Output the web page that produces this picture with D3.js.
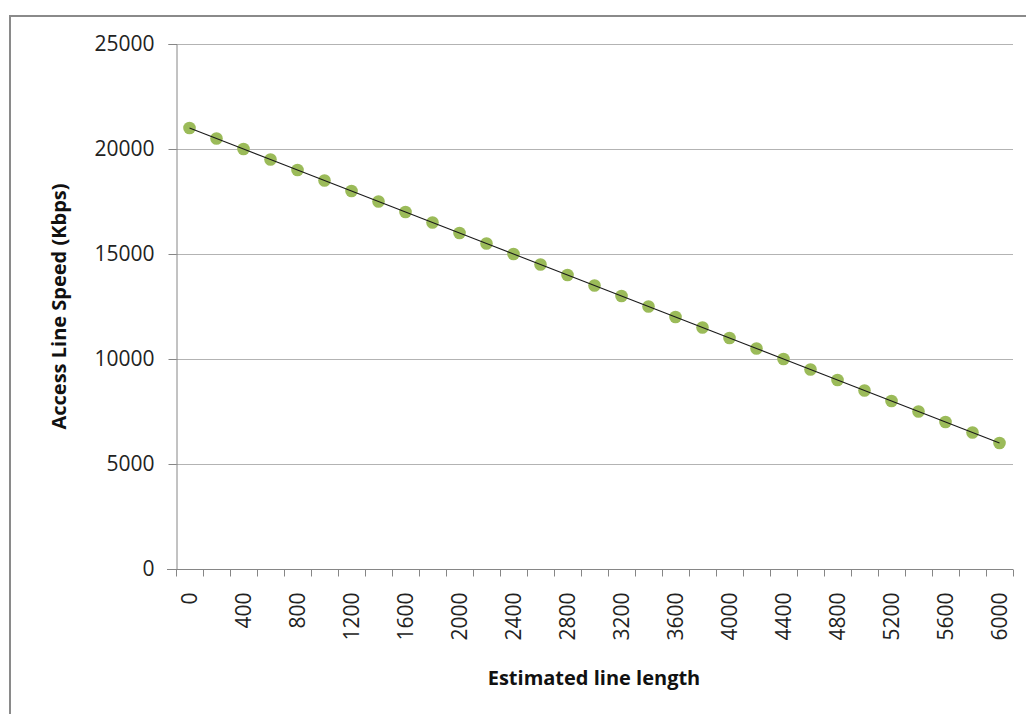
<!DOCTYPE html>
<html>
<head>
<meta charset="utf-8">
<script src="https://cdn.jsdelivr.net/npm/d3@7"></script>
<style>
  html, body { margin: 0; padding: 0; background: #fff; }
  svg { display: block; font-family: "Open Sans", "Liberation Sans", sans-serif; }
</style>
</head>
<body>
<div id="chart"></div>
<script>
// line length categories (0 .. 6000 step 200) and measured speed
const lengths = [0, 200, 400, 600, 800, 1000, 1200, 1400, 1600, 1800, 2000, 2200, 2400, 2600, 2800, 3000,
  3200, 3400, 3600, 3800, 4000, 4200, 4400, 4600, 4800, 5000, 5200, 5400, 5600, 5800, 6000];
const speeds = [21000, 20500, 20000, 19500, 19000, 18500, 18000, 17500, 17000, 16500, 16000, 15500, 15000, 14500, 14000, 13500,
  13000, 12500, 12000, 11500, 11000, 10500, 10000, 9500, 9000, 8500, 8000, 7500, 7000, 6500, 6000];
const xLabels = [0, 400, 800, 1200, 1600, 2000, 2400, 2800, 3200, 3600, 4000, 4400, 4800, 5200, 5600, 6000];
const yTicks = [0, 5000, 10000, 15000, 20000, 25000];

const width = 1026, height = 714;
const plot = { left: 176, top: 44, right: 1013, bottom: 569 };

const svg = d3.select('#chart').append('svg')
  .attr('width', width)
  .attr('height', height);

// outer chart frame
svg.append('rect')
  .attr('x', 10).attr('y', 16)
  .attr('width', 1040).attr('height', 720)
  .attr('fill', 'none')
  .attr('stroke', '#8a8a8a')
  .attr('stroke-width', 2);

const x = d3.scaleBand()
  .domain(lengths)
  .range([plot.left, plot.right]);

const y = d3.scaleLinear()
  .domain([0, 25000])
  .range([plot.bottom, plot.top]);

// gridlines
svg.append('g')
  .selectAll('line')
  .data(yTicks.slice(1))
  .join('line')
  .attr('x1', plot.left).attr('x2', plot.right)
  .attr('y1', d => Math.round(y(d)) + 0.5).attr('y2', d => Math.round(y(d)) + 0.5)
  .attr('stroke', '#b3b3b3')
  .attr('stroke-width', 1);

// y axis
const yAxis = svg.append('g')
  .attr('transform', `translate(${plot.left + 0.5},0)`)
  .call(d3.axisLeft(y).tickValues(yTicks).tickSize(8).tickPadding(14).tickFormat(d3.format('d')));
yAxis.select('.domain').attr('stroke', '#868686');
yAxis.selectAll('.tick line').attr('stroke', '#868686');
yAxis.selectAll('.tick text')
  .attr('font-size', 21)
  .attr('fill', '#222')
  .attr('font-family', '"Open Sans", sans-serif');

// x axis: ticks between categories, labels every other category
const xAxisG = svg.append('g')
  .attr('transform', `translate(0,${plot.bottom + 0.5})`);
xAxisG.append('line')
  .attr('x1', plot.left - 9).attr('x2', plot.right)
  .attr('stroke', '#868686');
const boundaries = lengths.map(d => x(d)).concat([x(lengths[lengths.length - 1]) + x.bandwidth()]);
xAxisG.selectAll('line.tick')
  .data(boundaries)
  .join('line')
  .attr('class', 'tick')
  .attr('x1', d => Math.round(d) + 0.5).attr('x2', d => Math.round(d) + 0.5)
  .attr('y1', 0).attr('y2', 7)
  .attr('stroke', '#868686');
xAxisG.selectAll('text')
  .data(xLabels)
  .join('text')
  .attr('transform', d => `translate(${x(d) + x.bandwidth() / 2 + 7},23) rotate(-90)`)
  .attr('text-anchor', 'end')
  .attr('font-size', 21)
  .attr('fill', '#222')
  .text(d => d);

// series: connecting line drawn over the markers
const line = d3.line()
  .x((d, i) => x(lengths[i]) + x.bandwidth() / 2)
  .y(d => y(d));

svg.append('g')
  .selectAll('circle')
  .data(speeds)
  .join('circle')
  .attr('cx', (d, i) => x(lengths[i]) + x.bandwidth() / 2)
  .attr('cy', d => y(d))
  .attr('r', 6.3)
  .attr('fill', '#9bbb59');

svg.append('path')
  .datum(speeds)
  .attr('d', line)
  .attr('fill', 'none')
  .attr('stroke', '#1a1a1a')
  .attr('stroke-width', 1.1);

// axis titles
svg.append('text')
  .attr('transform', `translate(66,${(plot.top + plot.bottom) / 2}) rotate(-90)`)
  .attr('text-anchor', 'middle')
  .attr('font-size', 20)
  .attr('font-weight', 'bold')
  .attr('fill', '#111')
  .text('Access Line Speed (Kbps)');

svg.append('text')
  .attr('x', 594)
  .attr('y', 685)
  .attr('text-anchor', 'middle')
  .attr('font-size', 20)
  .attr('font-weight', 'bold')
  .attr('fill', '#111')
  .text('Estimated line length');
</script>
</body>
</html>
